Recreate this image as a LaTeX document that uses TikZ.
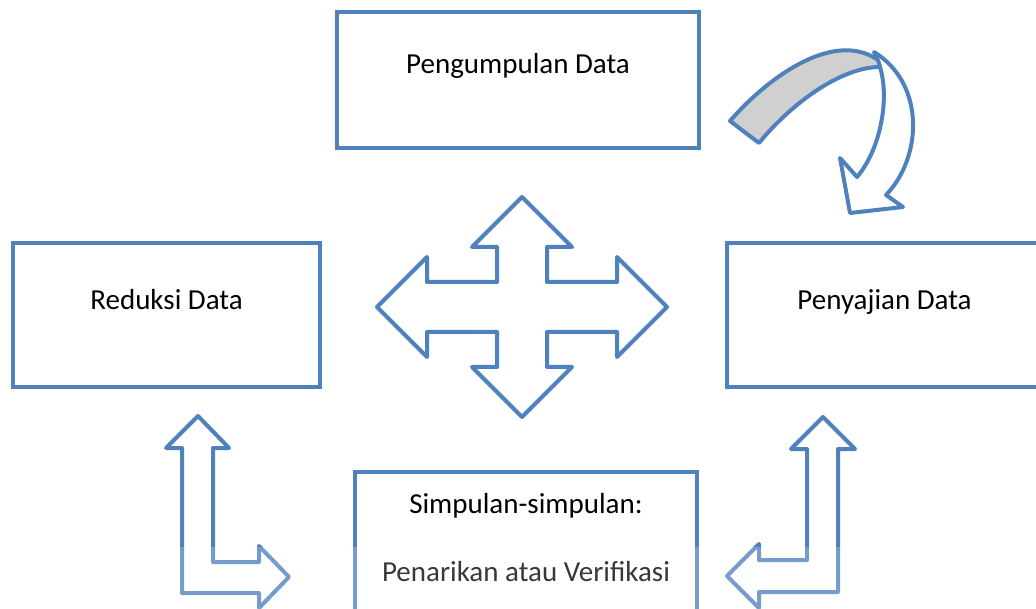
\documentclass[tikz,border=0pt]{standalone}
\usepackage{fontspec}
\setmainfont{Carlito}
\usepackage{tikz}
\definecolor{kastenblau}{RGB}{79,129,189}
\definecolor{bandgrau}{RGB}{208,208,208}
\usetikzlibrary{positioning}

\begin{document}
\begin{tikzpicture}[x=1pt, y=-1pt,
				kasten/.style={draw=kastenblau, line width=4pt, fill=white, inner sep=0pt},
				pfeil/.style={draw=kastenblau, line width=4pt, line join=round, fill=white},
				font=\fontsize{29}{34}\selectfont]
				%Bildbereich
				\useasboundingbox (0,0) rectangle (1036,609);
				% Kaesten zeichnen
				\node[kasten, minimum width=362, minimum height=136] (sammlung) at (518,80) {};
				\node[kasten, minimum width=307, minimum height=144] (reduktion) at (166.5,315) {};
				\node[kasten, minimum width=315, minimum height=144] (darstellung) at (884.5,315) {};
				\node[kasten, minimum width=342, minimum height=170] (fazit) at (526,557) {};
				% Beschriftung
				\node[anchor=base] (tsammlung) at ([yshift=-64pt]sammlung.north) {Pengumpulan Data};
				\node[anchor=base] (treduktion) at ([yshift=-69pt]reduktion.north) {Reduksi Data};
				\node[anchor=base] (tdarstellung) at ([yshift=-69pt]darstellung.north) {Penyajian Data};
				\node[anchor=base] (tfazit) at ([yshift=-43pt]fazit.north) {Simpulan-simpulan:};
				\node[anchor=base] (tpruefung) at ([yshift=-111pt]fazit.north) {Penarikan atau Verifikasi};
				%Kreuzpfeil in der Mitte
				\begin{scope}[shift={(522,307)}]
					\draw[pfeil] (0,-110) -- (50,-60) -- (25,-60) -- (25,-25) -- (95,-25) -- (95,-50)
						-- (145,0) -- (95,50) -- (95,25) -- (25,25) -- (25,60) -- (50,60)
						-- (0,110) -- (-50,60) -- (-25,60) -- (-25,25) -- (-95,25) -- (-95,50)
						-- (-145,0) -- (-95,-50) -- (-95,-25) -- (-25,-25) -- (-25,-60) -- (-50,-60) -- cycle;
				\end{scope}
				%Winkelpfeile unten
				\draw[pfeil] (198,416) -- (229,448) -- (213,448) -- (213,562) -- (259,562) -- (259,546)
					-- (289,577) -- (259,608) -- (259,593) -- (182,593) -- (182,448) -- (166,448) -- cycle;
				\draw[pfeil] (823,417) -- (855,449) -- (838,449) -- (838,592) -- (759,592) -- (759,608)
					-- (727,576) -- (759,544) -- (759,560) -- (807,560) -- (807,449) -- (791,449) -- cycle;
				%gebogener Pfeil oben rechts
				\draw[pfeil] (874,52) .. controls (926,84) and (922,158) .. (886,195) -- (903,207)
					-- (850,213) -- (840,158) -- (857,177) .. controls (880,150) and (890,100) .. (880,67) -- cycle;
				\draw[pfeil, fill=bandgrau] (730,121) .. controls (770,75) and (835,30) .. (878,60)
					-- (880,67) .. controls (840,67) and (790,105) .. (759,143) -- cycle;
				%heller Streifen unten
				\fill[white, opacity=0.22] (0,547) rectangle (1036,609);
			\end{tikzpicture}
\end{document}
